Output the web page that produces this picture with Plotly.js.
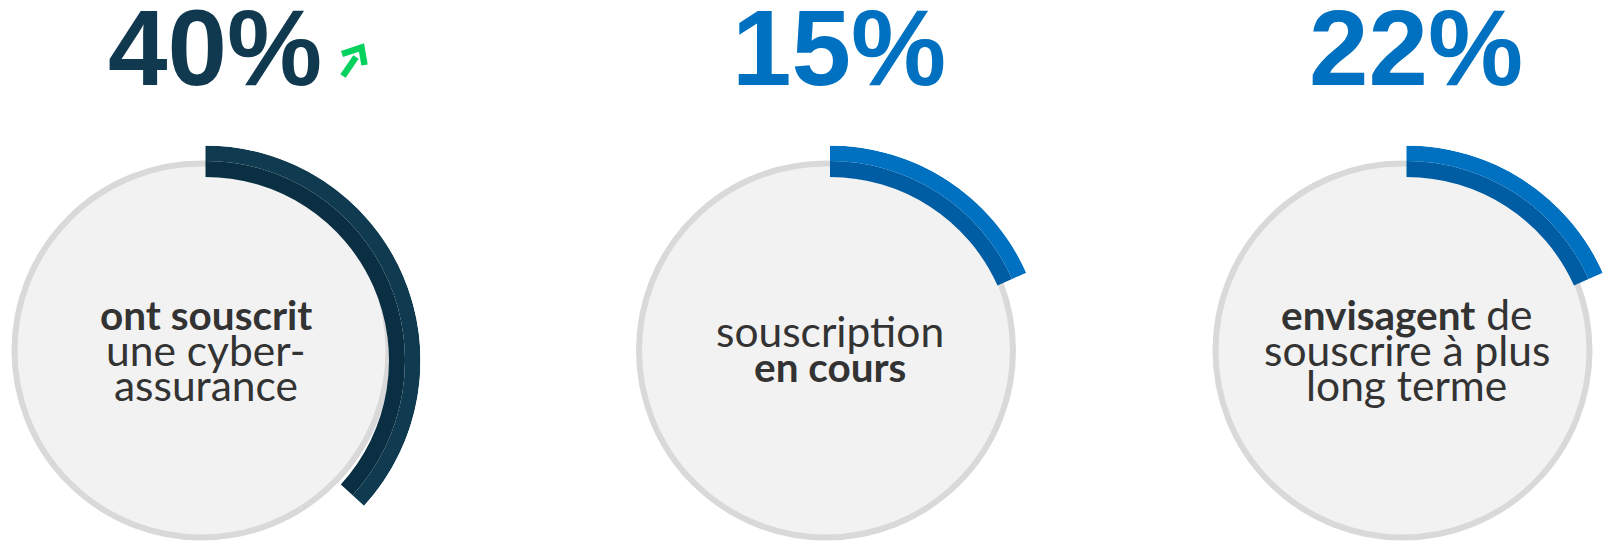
<!DOCTYPE html>
<html><head><meta charset="utf-8">
<script src="https://cdn.plot.ly/plotly-3.0.1.min.js"></script>
<style>html,body{margin:0;padding:0;width:1605px;height:542px;overflow:hidden;background:#fff;position:relative}
#chart{position:absolute;left:-60px;top:0;width:1760px;height:760px}</style>
</head><body><div id="chart"></div>
<script>
// ---- data ----
const percentLabels = ['40%', '15%', '22%'];
const percentValues = [40, 15, 22];
// share of the ring actually covered by each arc in the picture (%)
const arcShareDrawn = [36.8, 18.3, 18.3];
const captionLines = [
  ['<b>ont souscrit</b>', 'une cyber-', 'assurance'],
  ['souscription', '<b>en cours</b>'],
  ['<b>envisagent</b> de', 'souscrire à plus', 'long terme']
];
const trendUp = [true, false, false];

// ---- styles / layout (page pixels) ----
const OFF = 60, W = 1760, H = 760;
const circleCx = [201.5, 826, 1402.5], circleCy = 350.5, circleR = 190;
const arcDx = 4, arcCy = 360.5, arcInner = 183.5, arcMid = 199.5, arcOuter = 215;
const pctDx = [9.5, 9, 9];
const lightCol = ['#0f3a4f', '#0070c0', '#0070c0'];
const darkCol = ['#0b2f42', '#005da3', '#005da3'];
const pctCol = ['#10394f', '#0070c0', '#0070c0'];
const regSize = 42.5, boldSize = 40.5;
const px = x => (x + OFF) / W, py = y => 1 - y / H;

const traces = [], shapes = [], annotations = [];
const layout = {
  width: W, height: H, margin: {l: 0, r: 0, t: 0, b: 0},
  paper_bgcolor: '#ffffff', plot_bgcolor: '#ffffff', showlegend: false
};

percentLabels.forEach((lab, i) => {
  const key = i === 0 ? 'polar' : 'polar' + (i + 1);
  const ax = circleCx[i] + arcDx;
  const deg = arcShareDrawn[i] / 100 * 360;
  layout[key] = {
    domain: {x: [px(ax - arcOuter), px(ax + arcOuter)], y: [py(arcCy + arcOuter), py(arcCy - arcOuter)]},
    bgcolor: 'rgba(0,0,0,0)', hole: 0,
    radialaxis: {visible: false, range: [0, arcOuter], autorange: false, showgrid: false},
    angularaxis: {visible: false, rotation: 90, direction: 'clockwise', showgrid: false, showline: false, ticks: ''}
  };
  traces.push({
    type: 'barpolar', subplot: key, r: [arcMid - arcInner], base: [arcInner],
    theta: [0], offset: [0], width: [deg], marker: {color: darkCol[i], line: {width: 0}},
    hoverinfo: 'skip'
  });
  traces.push({
    type: 'barpolar', subplot: key, r: [arcOuter - arcMid], base: [arcMid],
    theta: [0], offset: [0], width: [deg], marker: {color: lightCol[i], line: {width: 0}},
    hoverinfo: 'skip'
  });
  // grey disk
  const rr = circleR - 3;
  shapes.push({
    type: 'circle', xref: 'paper', yref: 'paper', layer: 'below',
    x0: px(circleCx[i] - rr), x1: px(circleCx[i] + rr), y0: py(circleCy + rr), y1: py(circleCy - rr),
    fillcolor: '#f2f2f2', line: {color: '#d9d9d9', width: 6}
  });
  // big percentage
  annotations.push({
    xref: 'paper', yref: 'paper', x: px(ax + pctDx[i]), y: py(48.5), xanchor: 'center', yanchor: 'middle',
    text: '<b>' + lab + '</b>', showarrow: false,
    font: {family: 'Liberation Sans, Arial, sans-serif', size: 107, color: pctCol[i]}
  });
  // caption lines
  const lines = captionLines[i];
  const base0 = lines.length === 3 ? 330 : 346.5;
  lines.forEach((t, k) => {
    const baseline = base0 + k * 35.5;
    let txt = t, size = regSize;
    if (t.startsWith('<b>') && t.endsWith('</b>')) {
      size = boldSize;
    } else {
      txt = t.replace(/<b>(.*?)<\/b>/g, '<b><span style="font-size:' + boldSize + 'px">$1</span></b>');
    }
    annotations.push({
      xref: 'paper', yref: 'paper', x: px(ax), y: py(baseline - 0.387 * size), xanchor: 'center', yanchor: 'middle',
      text: txt, showarrow: false, font: {family: 'Lato, sans-serif', size: size, color: '#333333'}
    });
  });
  if (trendUp[i]) {
    shapes.push({
      type: 'path', xref: 'paper', yref: 'paper', layer: 'above',
      path: `M ${px(342)} ${py(54)} L ${px(361.5)} ${py(47.5)} L ${px(364.5)} ${py(65)}`,
      line: {color: '#05d15f', width: 6.5}, fillcolor: 'rgba(0,0,0,0)'
    });
    shapes.push({
      type: 'path', xref: 'paper', yref: 'paper', layer: 'above',
      path: `M ${px(343)} ${py(76)} L ${px(356)} ${py(57)}`,
      line: {color: '#05d15f', width: 6.5}
    });
  }
});
layout.shapes = shapes;
layout.annotations = annotations;
Plotly.newPlot('chart', traces, layout, {staticPlot: true, displayModeBar: false});
</script></body></html>
